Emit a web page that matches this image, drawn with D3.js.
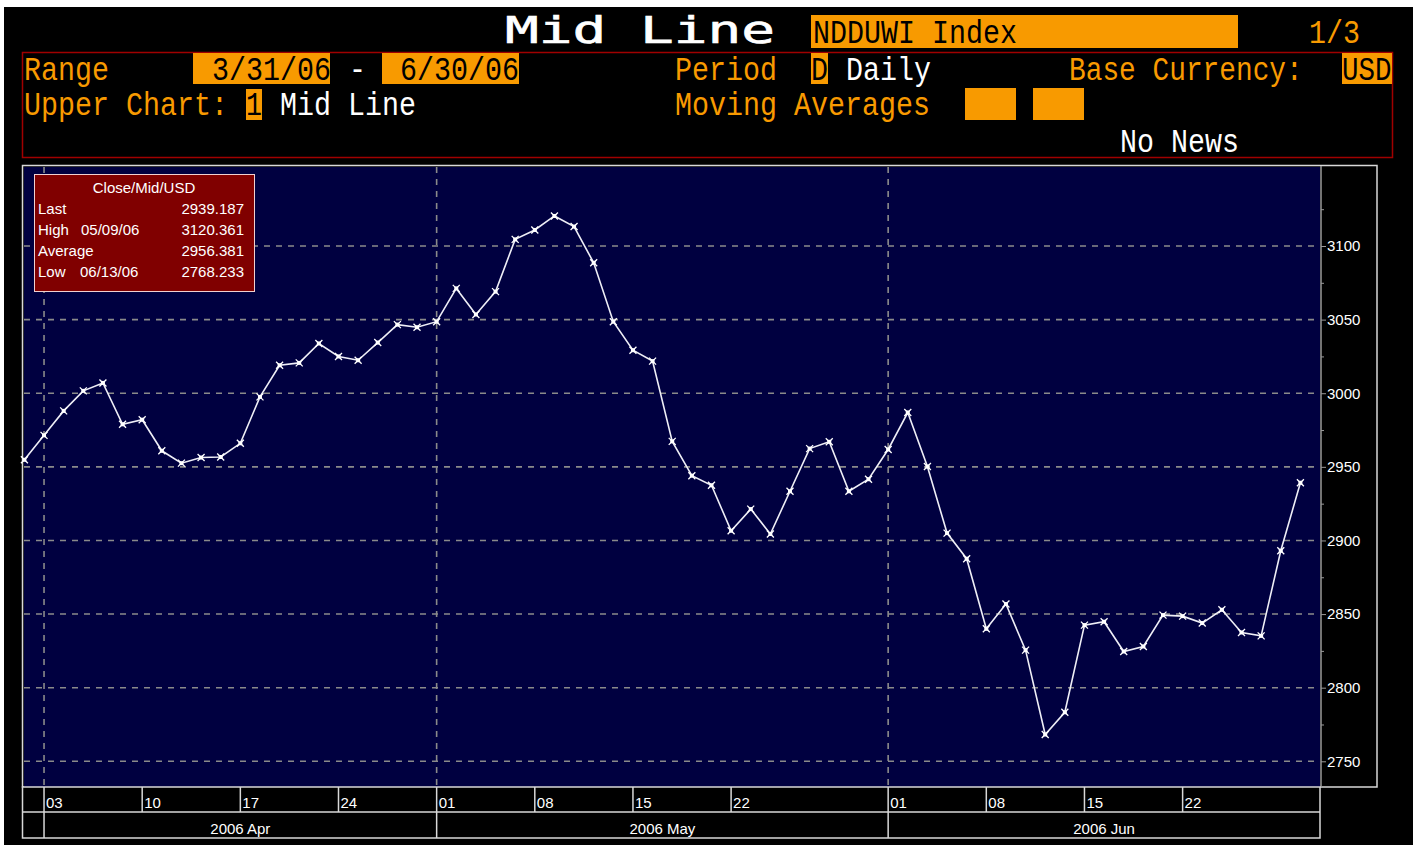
<!DOCTYPE html>
<html><head><meta charset="utf-8">
<script src="https://cdn.jsdelivr.net/npm/d3@7"></script>
<style>html,body{margin:0;padding:0;background:#fff;}svg{display:block}</style>
</head><body>
<svg id="c" width="1413" height="845"></svg>
<script>
// ---------- data ----------
const dates = [
 "2006-03-31",
 "2006-04-03","2006-04-04","2006-04-05","2006-04-06","2006-04-07",
 "2006-04-10","2006-04-11","2006-04-12","2006-04-13","2006-04-14",
 "2006-04-17","2006-04-18","2006-04-19","2006-04-20","2006-04-21",
 "2006-04-24","2006-04-25","2006-04-26","2006-04-27","2006-04-28",
 "2006-05-01","2006-05-02","2006-05-03","2006-05-04","2006-05-05",
 "2006-05-08","2006-05-09","2006-05-10","2006-05-11","2006-05-12",
 "2006-05-15","2006-05-16","2006-05-17","2006-05-18","2006-05-19",
 "2006-05-22","2006-05-23","2006-05-24","2006-05-25","2006-05-26",
 "2006-05-29","2006-05-30","2006-05-31",
 "2006-06-01","2006-06-02",
 "2006-06-05","2006-06-06","2006-06-07","2006-06-08","2006-06-09",
 "2006-06-12","2006-06-13","2006-06-14","2006-06-15","2006-06-16",
 "2006-06-19","2006-06-20","2006-06-21","2006-06-22","2006-06-23",
 "2006-06-26","2006-06-27","2006-06-28","2006-06-29","2006-06-30"
];
const midValues = [
 2954.8,
 2971.4,2988.0,3001.6,3007.0,2978.9,
 2982.0,2960.9,2952.5,2956.3,2956.7,
 2966.0,2997.5,3019.0,3020.6,3033.8,
 3025.0,3022.4,3034.4,3046.6,3044.8,
 3048.6,3071.2,3053.5,3069.0,3104.5,
 3110.9,3120.4,3113.2,3088.6,3048.6,
 3029.2,3021.8,2967.3,2944.0,2937.5,
 2906.6,2921.3,2904.4,2933.4,2962.4,
 2967.0,2933.4,2941.6,
 2961.8,2986.9,
 2950.2,2905.0,2887.6,2840.0,2856.8,
 2825.5,2768.2,2783.3,2842.5,2844.8,
 2824.6,2828.0,2849.3,2848.6,2843.9,
 2852.9,2837.5,2835.2,2893.0,2939.187
];
const yTicks = [2750,2800,2850,2900,2950,3000,3050,3100];
const yMinorTicks = [2775,2825,2875,2925,2975,3025,3075,3125];
const weekTickDates = ["2006-04-03","2006-04-10","2006-04-17","2006-04-24","2006-05-01","2006-05-08","2006-05-15","2006-05-22","2006-06-01","2006-06-08","2006-06-15","2006-06-22"];
const weekTickLabels = ["03","10","17","24","01","08","15","22","01","08","15","22"];
const monthStartDates = ["2006-04-03","2006-05-01","2006-06-01"];
const monthLabels = ["2006 Apr","2006 May","2006 Jun"];
const legendTitle = "Close/Mid/USD";
const legendLabels = ["Last","High","Average","Low"];
const legendDates = ["","05/09/06","","06/13/06"];
const legendValues = ["2939.187","3120.361","2956.381","2768.233"];

// ---------- layout ----------
const svg = d3.select("#c");
const ORANGE = "#f89a00";
const PL = 24, PR = 1320, PT = 166, PB = 787, AXR = 1377;
const mono = "'Liberation Mono','DejaVu Sans Mono',monospace";
const monoT = "'DejaVu Sans Mono','Liberation Mono',monospace";
const sans = "'Liberation Sans',Arial,sans-serif";

svg.append("rect").attr("x",4).attr("y",7).attr("width",1409).attr("height",838).attr("fill","#000");

// header text: monospace, condensed horizontally with a transform
function hText(x, y, str, color, pitch, size){
  pitch = pitch || 17; size = size || 33;
  const sx = pitch / (0.6 * size);
  return svg.append("text").attr("transform",`translate(${x},${y}) scale(${sx},1)`)
    .text(str).attr("fill",color).attr("font-family",mono).attr("font-size",size)
    .attr("xml:space","preserve");
}
function oBox(x,y,w,h){ svg.append("rect").attr("x",x).attr("y",y).attr("width",w).attr("height",h).attr("fill",ORANGE); }

// title
svg.append("text").attr("transform",`translate(505,43) scale(${270/(8*0.602*38)},1)`).text("Mid Line")
  .attr("fill","#fff").attr("stroke","#fff").attr("stroke-width",0.6)
  .attr("font-family",monoT).attr("font-size",38).attr("xml:space","preserve");
oBox(811,15,427,33);
hText(813,43,"NDDUWI Index","#000");
hText(1309,43,"1/3",ORANGE);

// header panel
svg.append("rect").attr("x",22.5).attr("y",52.5).attr("width",1370).attr("height",105)
  .attr("fill","none").attr("stroke","#a00000").attr("stroke-width",1.5);
hText(24,80,"Range",ORANGE);
oBox(193,53,137,31); hText(212,80,"3/31/06","#000");
hText(349,80,"-","#fff");
oBox(382,53,137,31); hText(400,80,"6/30/06","#000");
hText(675,80,"Period",ORANGE);
oBox(811,53,17,31); hText(811,80,"D","#000");
hText(846,80,"Daily","#fff");
hText(1069,80,"Base Currency:",ORANGE,16.7);
oBox(1342,53,50,31); hText(1342,80,"USD","#000",16.5);

hText(24,115,"Upper Chart:",ORANGE);
oBox(246,89,16,31); hText(246,115,"1","#000",16);
hText(280,115,"Mid Line","#fff");
hText(675,115,"Moving Averages",ORANGE);
oBox(965,88,51,32); oBox(1033,88,51,32);
hText(1120,152,"No News","#fff");

// ---------- chart ----------
const x = d3.scalePoint().domain(dates).range([24.4, 1300.4]);
const y = d3.scaleLinear().domain([2750,3100]).range([761.3,246]);

// outer frame + plot background
svg.append("rect").attr("x",22.5).attr("y",165.5).attr("width",AXR-22.5).attr("height",PB-165.5)
  .attr("fill","#000").attr("stroke","#d8d8d8").attr("stroke-width",1.5);
svg.append("rect").attr("x",PL).attr("y",PT+1).attr("width",PR-PL).attr("height",PB-PT-1).attr("fill","#000040");

const grid = svg.append("g").attr("stroke","#8a8a8a").attr("stroke-width",1.6).attr("stroke-dasharray","6,6");
grid.selectAll("line.h").data(yTicks).join("line")
  .attr("x1",PL).attr("x2",PR).attr("y1",d=>y(d)).attr("y2",d=>y(d));
grid.selectAll("line.v").data(monthStartDates).join("line")
  .attr("x1",d=>x(d)).attr("x2",d=>x(d)).attr("y1",PT+1).attr("y2",PB);

// right axis
const yAxis = svg.append("g").attr("transform",`translate(${PR+1},0)`)
  .call(d3.axisRight(y).tickValues(yTicks).tickSize(5).tickPadding(1).tickFormat(d3.format("d")));
yAxis.select(".domain").remove();
yAxis.selectAll("line").attr("stroke","#9a9a9a");
yAxis.selectAll("text").attr("fill","#fff").attr("font-family",sans).attr("font-size",15);
const yMinor = svg.append("g").attr("transform",`translate(${PR+1},0)`)
  .call(d3.axisRight(y).tickValues(yMinorTicks).tickSize(3).tickFormat(""));
yMinor.select(".domain").remove();
yMinor.selectAll("line").attr("stroke","#9a9a9a");
svg.append("line").attr("x1",PR+1).attr("x2",PR+1).attr("y1",PT).attr("y2",PB).attr("stroke","#9a9a9a").attr("stroke-width",1.5);

// line
const pts = dates.map((d,i)=>({d, v: midValues[i]}));
svg.append("path").datum(pts)
  .attr("d", d3.line().x(p=>x(p.d)).y(p=>y(p.v)))
  .attr("fill","none").attr("stroke","#eeeef6").attr("stroke-width",1.6);
const mk = svg.append("g").selectAll("g").data(pts).join("g")
  .attr("transform",p=>`translate(${x(p.d)},${y(p.v)})`);
mk.append("path").attr("d","M-3.5,-3.5L3.5,3.5M-3.5,3.5L3.5,-3.5").attr("stroke","#fff").attr("stroke-width",1.3);
mk.append("rect").attr("x",-2).attr("y",-2).attr("width",4).attr("height",4).attr("fill","#fff");

// legend box
const lg = svg.append("g");
lg.append("rect").attr("x",34.5).attr("y",174.5).attr("width",220).attr("height",117)
  .attr("fill","#800000").attr("stroke","#f0d0d0").attr("stroke-width",1);
lg.append("text").attr("x",144).attr("y",193).attr("text-anchor","middle").text(legendTitle)
  .attr("fill","#fff").attr("font-family",sans).attr("font-size",15);
legendLabels.forEach((lab,i)=>{
  const by = 214 + i*21;
  lg.append("text").attr("x",38).attr("y",by).text(lab).attr("fill","#fff").attr("font-family",sans).attr("font-size",15);
  if (legendDates[i]) lg.append("text").attr("x",i===1?81:80).attr("y",by).text(legendDates[i]).attr("fill","#fff").attr("font-family",sans).attr("font-size",15);
  lg.append("text").attr("x",244).attr("y",by).attr("text-anchor","end").text(legendValues[i]).attr("fill","#fff").attr("font-family",sans).attr("font-size",15);
});

// bottom date axis
const bx = svg.append("g");
const R1 = PB, R2 = 812, R3 = 838;
bx.append("rect").attr("x",22.5).attr("y",R1).attr("width",PR-22.5).attr("height",R3-R1)
  .attr("fill","#000").attr("stroke","#d8d8d8").attr("stroke-width",1.5);
bx.append("line").attr("x1",22.5).attr("x2",PR).attr("y1",R2).attr("y2",R2).attr("stroke","#d8d8d8").attr("stroke-width",1.5);
bx.selectAll("line.wk").data(weekTickDates).join("line")
  .attr("x1",d=>x(d)).attr("x2",d=>x(d)).attr("y1",R1).attr("y2",R2)
  .attr("stroke","#d8d8d8").attr("stroke-width",1.5);
bx.selectAll("text.wk").data(weekTickDates).join("text")
  .attr("x",d=>x(d)+2).attr("y",808).text((d,i)=>weekTickLabels[i])
  .attr("fill","#fff").attr("font-family",sans).attr("font-size",15);
bx.selectAll("line.mo").data(monthStartDates).join("line")
  .attr("x1",d=>x(d)).attr("x2",d=>x(d)).attr("y1",R2).attr("y2",R3)
  .attr("stroke","#d8d8d8").attr("stroke-width",1.5);
bx.selectAll("text.mo").data(monthStartDates).join("text")
  .attr("x",(d,i)=>{ const a = x(d); const b = i<monthStartDates.length-1 ? x(monthStartDates[i+1]) : PR; return (a+b)/2; })
  .attr("y",834).attr("text-anchor","middle").text((d,i)=>monthLabels[i])
  .attr("fill","#fff").attr("font-family",sans).attr("font-size",15);
</script>
</body></html>
